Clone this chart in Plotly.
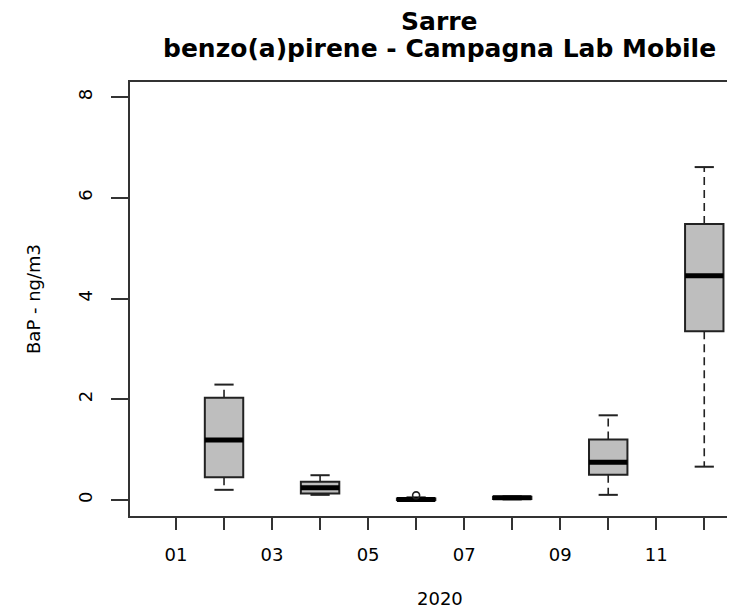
import plotly.graph_objects as go

# ---- data ----
months = [2, 4, 6, 8, 10, 12]
q1 = [0.45, 0.125, 0.0, 0.02, 0.50, 3.35]
median = [1.19, 0.24, 0.01, 0.04, 0.75, 4.45]
q3 = [2.03, 0.36, 0.03, 0.06, 1.20, 5.48]
lower_whisker = [0.20, 0.10, -0.01, 0.01, 0.10, 0.66]
upper_whisker = [2.29, 0.49, 0.05, 0.07, 1.68, 6.61]
outlier_month = [6]
outlier_value = [0.09]

tick_months = list(range(1, 13))
tick_labels = ["01", "", "03", "", "05", "", "07", "", "09", "", "11", ""]
y_ticks = [0, 2, 4, 6, 8]

title_line1 = "Sarre"
title_line2 = "benzo(a)pirene - Campagna Lab Mobile"
x_title = "2020"
y_title = "BaP - ng/m3"

BOX_W = 0.8
CAP_W = 0.4
INK = "#222222"
FONT = "DejaVu Sans"

fig = go.Figure()

# whiskers (dashed)
wx, wy = [], []
for m, a, b, lo, hi in zip(months, q1, q3, lower_whisker, upper_whisker):
    wx += [m, m, None, m, m, None]
    wy += [b, hi, None, a, lo, None]
fig.add_trace(go.Scatter(x=wx, y=wy, mode="lines",
                         line=dict(color=INK, width=1.6, dash="8px,5px"),
                         hoverinfo="skip", showlegend=False))

# caps
cx, cy = [], []
for m, lo, hi in zip(months, lower_whisker, upper_whisker):
    cx += [m - CAP_W / 2, m + CAP_W / 2, None, m - CAP_W / 2, m + CAP_W / 2, None]
    cy += [hi, hi, None, lo, lo, None]
fig.add_trace(go.Scatter(x=cx, y=cy, mode="lines",
                         line=dict(color=INK, width=2),
                         hoverinfo="skip", showlegend=False))

# boxes
fig.add_trace(go.Box(x=months, q1=q1, median=median, q3=q3,
                     lowerfence=q1, upperfence=q3,
                     width=BOX_W, whiskerwidth=0,
                     fillcolor="#BEBEBE",
                     line=dict(color=INK, width=2),
                     boxpoints=False, showlegend=False))

# thick medians
mx, my = [], []
for m, md in zip(months, median):
    mx += [m - BOX_W / 2, m + BOX_W / 2, None]
    my += [md, md, None]
fig.add_trace(go.Scatter(x=mx, y=my, mode="lines",
                         line=dict(color="black", width=5),
                         hoverinfo="skip", showlegend=False))

# outliers
fig.add_trace(go.Scatter(x=outlier_month, y=outlier_value, mode="markers",
                         marker=dict(symbol="circle-open", size=7,
                                     color=INK, line=dict(width=1.6)),
                         hoverinfo="skip", showlegend=False))

# page body has an 8px margin: shift the figure so it lands where the reference is
OFF = 8
W, H = 735 - OFF, 608 - OFF
L, T, B = 130 - OFF, 82 - OFF, 92
plot_w = W - L
plot_h = H - T - B


def px_x(px):
    return (px - OFF - L) / plot_w


def px_y(py):
    return (H - B - (py - OFF)) / plot_h


fig.update_layout(
    width=W, height=H,
    margin=dict(l=L, r=0, t=T, b=B),
    paper_bgcolor="white", plot_bgcolor="white",
    font=dict(family=FONT, color="black", size=18),
    showlegend=False,
    xaxis=dict(range=[0.042, 12.64], tickmode="array",
               tickvals=tick_months, ticktext=tick_labels,
               ticks="outside", ticklen=12, tickwidth=2, tickcolor="#333333",
               ticklabelstandoff=9,
               showline=True, linecolor="#333333", linewidth=2, mirror=True,
               showgrid=False, zeroline=False,
               tickfont=dict(family=FONT, size=18, color="black")),
    yaxis=dict(range=[-0.32, 8.3], tickmode="array", tickvals=y_ticks,
               ticktext=[str(v) for v in y_ticks],
               ticks="outside", ticklen=17, tickwidth=2, tickcolor="#333333",
               tickangle=-90, ticklabelstandoff=12,
               showline=True, linecolor="#333333", linewidth=2, mirror=False,
               showgrid=False, zeroline=False,
               tickfont=dict(family=FONT, size=18, color="black")),
    annotations=[
        dict(text="<b>" + title_line1 + "</b>", xref="paper", yref="paper",
             x=px_x(439), y=px_y(21), xanchor="center", yanchor="middle",
             showarrow=False, font=dict(family=FONT, size=25, color="black")),
        dict(text="<b>" + title_line2 + "</b>", xref="paper", yref="paper",
             x=px_x(439), y=px_y(48), xanchor="center", yanchor="middle",
             showarrow=False, font=dict(family=FONT, size=25, color="black")),
        dict(text=x_title, xref="paper", yref="paper",
             x=px_x(440), y=px_y(598), xanchor="center", yanchor="middle",
             showarrow=False, font=dict(family=FONT, size=18, color="black")),
        dict(text=y_title, xref="paper", yref="paper", textangle=-90,
             x=px_x(33), y=px_y(299), xanchor="center", yanchor="middle",
             showarrow=False, font=dict(family=FONT, size=18, color="black")),
    ],
)

fig.write_html("out.html")
